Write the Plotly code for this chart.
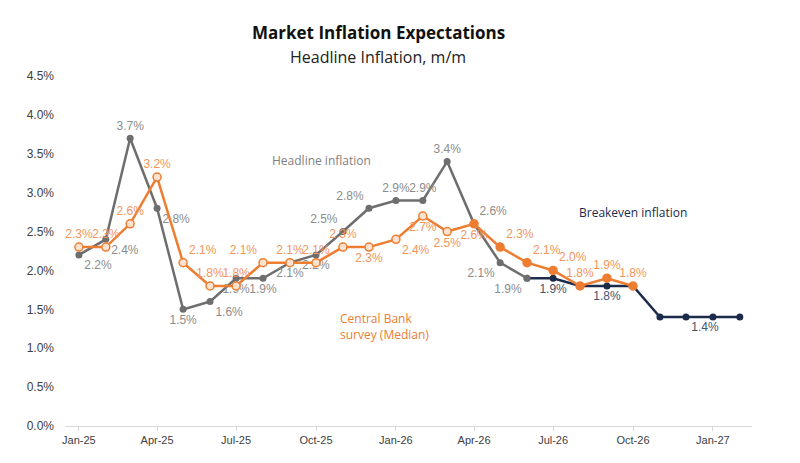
import plotly.graph_objects as go
import pandas as pd

# months Jan-25 .. Feb-27
months = pd.date_range("2025-01-01", "2027-02-01", freq="MS")

headline = [2.2, 2.4, 3.7, 2.8, 1.5, 1.6, 1.9, 1.9, 2.1, 2.2, 2.5, 2.8,
            2.9, 2.9, 3.4, 2.6, 2.1, 1.9]
# breakeven starts at Jun-26
breakeven = [1.9, 1.9, 1.8, 1.8, 1.8, 1.4, 1.4, 1.4, 1.4]
breakeven_labels = ["", "1.9%", "", "1.8%", "", "", "1.4%", "", ""]
survey = [2.3, 2.3, 2.6, 3.2, 2.1, 1.8, 1.8, 2.1, 2.1, 2.1, 2.3, 2.3,
          2.4, 2.7, 2.5, 2.6, 2.3, 2.1, 2.0, 1.8, 1.9, 1.8]

y_ticks = [0, 0.5, 1.0, 1.5, 2.0, 2.5, 3.0, 3.5, 4.0, 4.5]

GRAY = "#6e6e6e"
ORANGE = "#ED7D31"
NAVY = "#1c2b4a"

gray_pos = ["bottom right", "bottom right", "top center", "bottom right", "bottom center",
            "bottom right", "bottom center", "bottom center", "bottom center", "bottom center",
            "top left", "top left", "top center", "top center", "top center",
            "top right", "bottom left", "bottom left"]
orange_pos = ["top center", "top center", "top center", "top center", "top right",
              "top center", "top center", "top left", "top center", "top center",
              "top center", "bottom center", "bottom right", "bottom center", "bottom center",
              "bottom center", "top right", "top right", "top right", "top center",
              "top center", "top center"]
navy_pos = ["bottom center", "bottom center", "bottom center", "bottom center", "bottom center",
            "bottom right", "bottom right", "bottom right", "bottom right"]
# actuals hollow, later points filled
orange_fill = ["#fde3cf"] * 15 + [ORANGE] * (len(survey) - 15)

fig = go.Figure()

fig.add_trace(go.Scatter(
    x=months[:len(headline)], y=headline, mode="lines+markers+text",
    line=dict(color=GRAY, width=2.5),
    marker=dict(color=GRAY, size=7),
    text=[f"{v:.1f}%" for v in headline], textposition=gray_pos,
    textfont=dict(color="#8c8c8c", size=12, family="Liberation Sans"),
    cliponaxis=False, showlegend=False))

fig.add_trace(go.Scatter(
    x=months[len(headline) - 1:], y=breakeven, mode="lines+markers+text",
    line=dict(color=NAVY, width=2.5),
    marker=dict(color=[GRAY] + [NAVY] * (len(breakeven) - 1), size=7),
    text=breakeven_labels, textposition=navy_pos,
    textfont=dict(color="#44546a", size=12, family="Liberation Sans"),
    cliponaxis=False, showlegend=False))

fig.add_trace(go.Scatter(
    x=months[:len(survey)], y=survey, mode="lines+markers+text",
    line=dict(color=ORANGE, width=2.5),
    marker=dict(color=orange_fill, size=8, line=dict(color=ORANGE, width=1.5)),
    text=[f"{v:.1f}%" for v in survey], textposition=orange_pos,
    textfont=dict(color="#f2955a", size=12, family="Liberation Sans"),
    cliponaxis=False, showlegend=False))

ann = [
    dict(x=0.456, y=1.123, text="<b>Market Inflation Expectations</b>",
         font=dict(size=17, color="#111111", family="Open Sans")),
    dict(x=0.456, y=1.054, text="Headline Inflation, m/m",
         font=dict(size=16, color="#222222", family="Open Sans")),
    dict(x=0.374, y=0.76, text="Headline inflation",
         font=dict(size=12, color="#7f7f7f", family="Open Sans")),
    dict(x=0.397, y=0.283, text="Central Bank<br>survey (Median)", align="left", xanchor="left",
         font=dict(size=12, color=ORANGE, family="Open Sans")),
    dict(x=0.827, y=0.609, text="Breakeven inflation",
         font=dict(size=12, color=NAVY, family="Open Sans")),
]
for a in ann:
    a.setdefault("xanchor", "center")
    fig.add_annotation(xref="paper", yref="paper", yanchor="middle", showarrow=False, **a)

# page body adds ~8px offset, margins compensate
fig.update_layout(
    width=800, height=463,
    margin=dict(l=57, r=56, t=68, b=45),
    plot_bgcolor="white", paper_bgcolor="white",
    font=dict(family="Liberation Sans", size=11, color="#404040"),
    xaxis=dict(range=["2024-12-16", "2027-02-15"], tickvals=months[::3],
               tickformat="%b-%y", showgrid=False, zeroline=False,
               showline=True, linecolor="#d9d9d9", linewidth=1,
               ticks="outside", tickcolor="#d9d9d9", ticklen=4),
    yaxis=dict(range=[0, 4.5], tickmode="array", tickvals=y_ticks,
               ticktext=[f"{v:.1f}%" for v in y_ticks], ticklabelstandoff=10,
               tickfont=dict(size=12),
               showgrid=False, zeroline=False, showline=False),
)

fig.write_html("out.html")
